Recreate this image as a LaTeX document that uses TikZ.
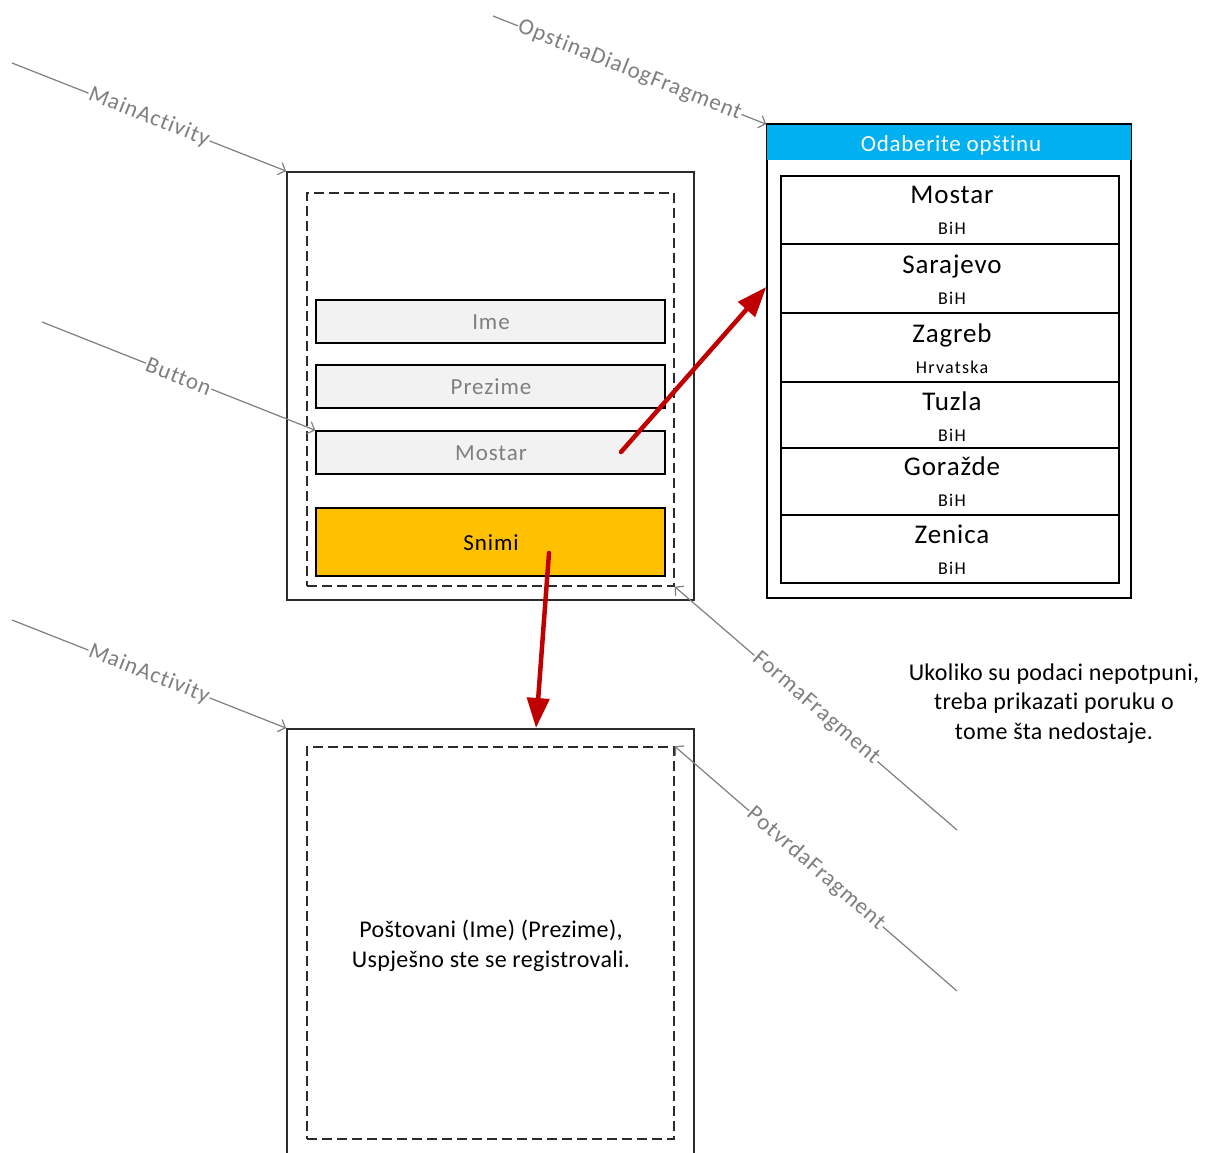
\documentclass[tikz,border=0pt]{standalone}
\usepackage{fontspec}
\setmainfont{Carlito}[Ligatures=NoCommon]
\usetikzlibrary{arrows.meta,calc}
\definecolor{lblgray}{HTML}{7F7F7F}
\definecolor{fieldfill}{HTML}{F2F2F2}
\definecolor{snimicol}{HTML}{FFC000}
\definecolor{hdrcol}{HTML}{00B0F0}
\definecolor{redarr}{HTML}{C00000}
\definecolor{framecol}{HTML}{2B2B2B}
\newcommand{\spfont}[3]{\fontsize{#1}{#2}\selectfont\addfontfeatures{LetterSpace=#3}}
\tikzset{
  framebox/.style={draw=framecol,line width=1.8pt,minimum width=407pt,inner sep=0pt},
  dashbox/.style={draw=framecol,line width=1.4pt,dash pattern=on 10pt off 5pt,minimum width=367pt,inner sep=0pt},
  fieldbox/.style={draw=black,line width=1.4pt,fill=fieldfill,minimum width=349pt,minimum height=43pt,inner sep=0pt},
  fieldtxt/.style={text=lblgray,font=\spfont{23}{28}{4},anchor=base,inner sep=0pt},
  rowbox/.style={draw=black,line width=1.5pt,minimum width=338pt,inner sep=0pt},
  citytxt/.style={font=\spfont{27}{32}{3.3},anchor=base,inner sep=0pt},
  subtxt/.style={font=\spfont{18}{21}{7},anchor=base,inner sep=0pt},
  conn/.style={draw=lblgray,line width=1.2pt,-{Straight Barb[length=6pt,width=13pt,line width=1.2pt]}},
  lbl/.style={midway,sloped,fill=white,text=lblgray,inner sep=1pt,font=\spfont{23}{28}{4}},
  redarrow/.style={draw=redarr,line width=4.5pt,line cap=round,-{Triangle[length=30pt,width=22pt]}},
  plaintxt/.style={font=\spfont{24}{29.5}{1.4},align=center,inner sep=0pt}
}
\begin{document}
\begin{tikzpicture}[x=1pt,y=-1pt]
\useasboundingbox (0,0) rectangle (1207,1153);
\clip (0,0) rectangle (1207,1153);
\fill[white] (0,0) rectangle (1207,1153);

% first screen
\node[framebox,minimum height=428pt] (main1) at (490.5,386) {};
\node[dashbox,minimum height=393pt] (dash1) at (490.5,389.5) {};
\node[fieldbox] (ime) at (490.5,321.5) {};
\node[fieldtxt] (imet) at (491,329) {Ime};
\node[fieldbox] (prez) at (490.5,386.5) {};
\node[fieldtxt] (prezt) at (491,394) {Prezime};
\node[fieldbox] (mostf) at (490.5,452.5) {};
\node[fieldtxt] (mostft) at (491,460) {Mostar};
\node[fieldbox,fill=snimicol,minimum height=68pt] (snimi) at (490.5,542) {};
\node[fieldtxt,text=black] (snimit) at (491,550) {Snimi};

% second screen
\node[framebox,minimum height=440pt] (main2) at (490.5,949) {};
\node[dashbox,minimum height=392pt] (dash2) at (490.5,943) {};
\node[plaintxt] (potv) at (491,946) {Poštovani (Ime) (Prezime),\\Uspješno ste se registrovali.};

% dialog
\node[draw=black,line width=1.5pt,minimum width=364pt,minimum height=473pt,inner sep=0pt] (dialog) at (949,361.5) {};
\fill[hdrcol] ($(dialog.north west)+(0.75,0.75)$) rectangle ($(dialog.north east)+(-0.75,36)$);
\node[text=white,font=\spfont{23}{28}{3.2},anchor=base,inner sep=0pt] (hdrt) at (951,152) {Odaberite opštinu};
\draw[black,line width=1.5pt] (dialog.north west) -- (dialog.north east);

\node[rowbox,minimum height=68pt] (r1) at (950,210) {};
\node[rowbox,minimum height=69pt] (r2) at (950,278.5) {};
\node[rowbox,minimum height=69pt] (r3) at (950,347.5) {};
\node[rowbox,minimum height=66pt] (r4) at (950,415) {};
\node[rowbox,minimum height=67pt] (r5) at (950,481.5) {};
\node[rowbox,minimum height=68pt] (r6) at (950,549) {};

\node[citytxt] (c1) at (952,203) {Mostar};
\node[subtxt] (s1) at (952,234) {BiH};
\node[citytxt] (c2) at (952,273) {Sarajevo};
\node[subtxt] (s2) at (952,304) {BiH};
\node[citytxt] (c3) at (952,342) {Zagreb};
\node[subtxt] (s3) at (952,373) {Hrvatska};
\node[citytxt] (c4) at (952,410) {Tuzla};
\node[subtxt] (s4) at (952,441) {BiH};
\node[citytxt] (c5) at (952,475) {Goražde};
\node[subtxt] (s5) at (952,506) {BiH};
\node[citytxt] (c6) at (952,543) {Zenica};
\node[subtxt] (s6) at (952,574) {BiH};

% note
\node[plaintxt] (note) at (1054,703.5) {Ukoliko su podaci nepotpuni,\\treba prikazati poruku o\\tome šta nedostaje.};

% labelled connectors
\coordinate (a1) at (12,63);
\coordinate (a2) at (42,322);
\coordinate (a3) at (12,620);
\coordinate (a4) at (493,16);
\coordinate (a5) at (957,830);
\coordinate (a6) at (957,991);
\draw[conn] (a1) -- node[lbl] {MainActivity} (main1.north west);
\draw[conn] (a2) -- node[lbl] {Button} (mostf.north west);
\draw[conn] (a3) -- node[lbl] {MainActivity} (main2.north west);
\draw[conn] (a4) -- node[lbl] {OpstinaDialogFragment} (dialog.north west);
\draw[conn] (a5) -- node[lbl] {FormaFragment} (dash1.south east);
\draw[conn] (a6) -- node[lbl] {PotvrdaFragment} (dash2.north east);

% red arrows
\coordinate (rs1) at (621,452);
\coordinate (re1) at (dialog.west |- 0,287);
\coordinate (rs2) at (549,553);
\coordinate (re2) at (536,728);
\draw[redarrow] (rs1) -- (re1);
\draw[redarrow] (rs2) -- (re2);
\end{tikzpicture}
\end{document}
